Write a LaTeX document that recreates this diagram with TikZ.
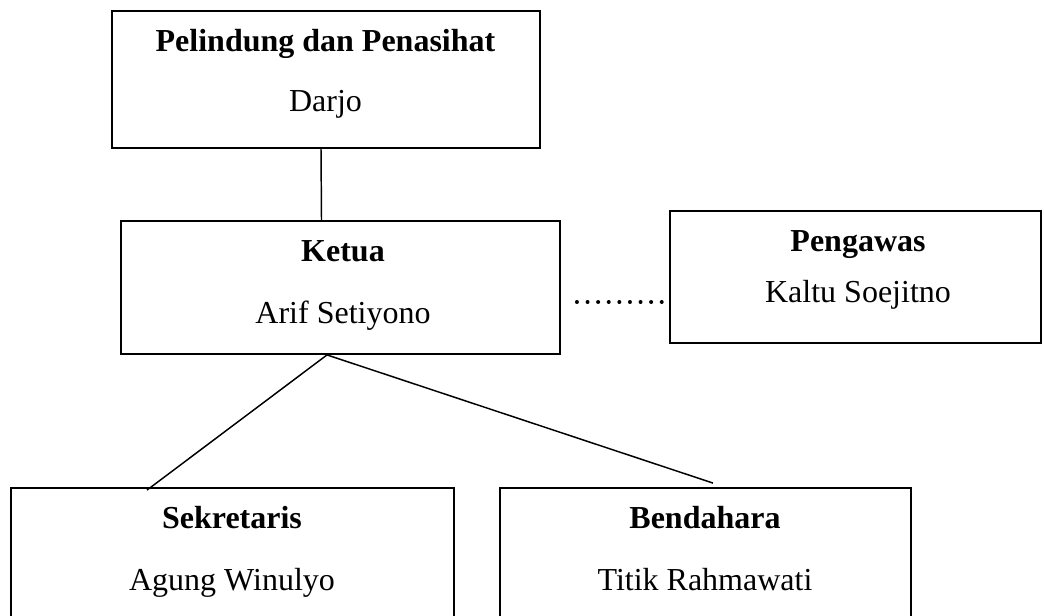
\documentclass[tikz,border=0pt]{standalone}
\usepackage{fontspec}
\setmainfont{Liberation Serif}
\usetikzlibrary{calc}
\tikzset{
  box/.style n args={2}{draw, line width=1.4pt, minimum width=#1*0.75pt, minimum height=#2*0.75pt, inner sep=0pt, fill=white},
  lbl/.style={anchor=base, inner sep=0pt, font=\fontsize{24pt}{28pt}\selectfont},
  blbl/.style={anchor=base, inner sep=0pt, font=\fontsize{24pt}{28pt}\selectfont\bfseries},
  conn/.style={line width=1.1pt},
  dotconn/.style={line width=3pt, line cap=round, dash pattern=on 0pt off 7.95pt}
}
\begin{document}
\begin{tikzpicture}[x=0.75pt, y=-0.75pt]
\useasboundingbox (0,0) rectangle (1044,616);
\clip (0,0) rectangle (1044,616);
\fill[white] (0,0) rectangle (1044,616);

% boxes
\node[box={428}{137}] (pel) at (326,79.5) {};
\node[box={439}{133}] (ket) at (340.5,287.5) {};
\node[box={371}{132}] (peng) at (855.5,277) {};
\node[box={443}{172}] (sek) at (232.5,574) {};
\node[box={411}{172}] (bend) at (705.5,574) {};

% texts
\node[blbl] (pelT) at (325.5,52) {Pelindung dan Penasihat};
\node[lbl] (pelN) at (325.5,112) {Darjo};
\node[blbl] (ketT) at (343,262) {Ketua};
\node[lbl] (ketN) at (343,323) {Arif Setiyono};
\node[blbl] (pengT) at (858,252) {Pengawas};
\node[lbl] (pengN) at (858,302) {Kaltu Soejitno};
\node[blbl] (sekT) at (232,528) {Sekretaris};
\node[lbl] (sekN) at (232,590) {Agung Winulyo};
\node[blbl] (bendT) at (705,528) {Bendahara};
\node[lbl] (bendN) at (705,590) {Titik Rahmawati};

% connectors
\draw[conn] ($(pel.south)+(-5,0)$) -- ($(ket.north)+(-19,0)$);
\coordinate (kb) at ($(ket.south)+(-13.5,0)$);
\draw[conn] (kb) -- ($(sek.north)+(-85.5,3)$);
\draw[conn] (kb) -- ($(bend.north)+(7.5,-4)$);
\draw[dotconn] ($(ket.east)+(16,14.5)$) -- ($(peng.west)+(-6.5,25)$);
\end{tikzpicture}
\end{document}
